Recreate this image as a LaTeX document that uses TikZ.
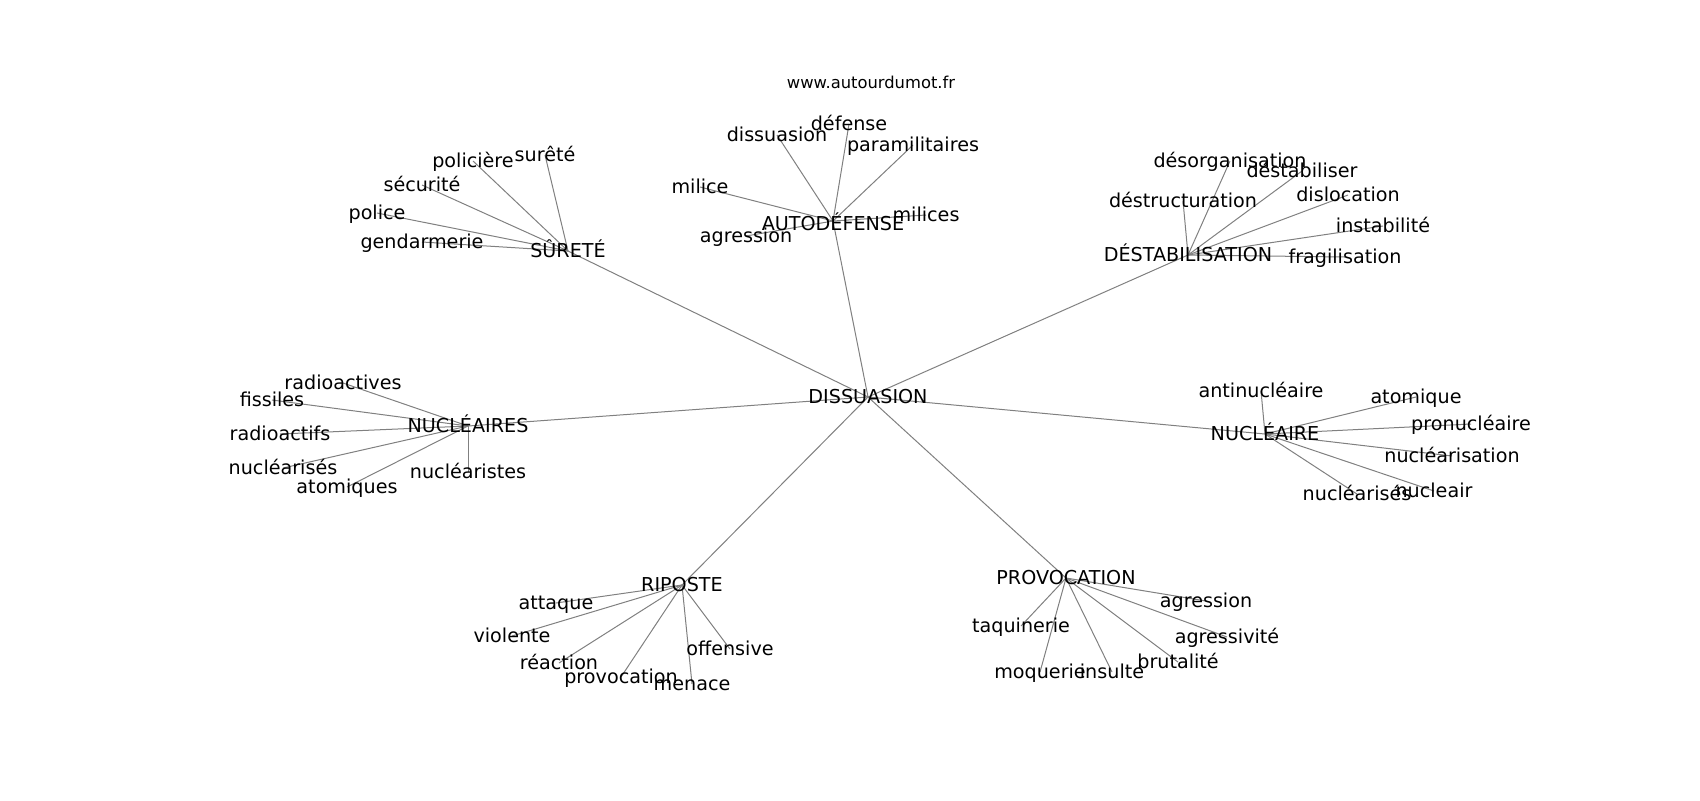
\documentclass[tikz,border=0pt]{standalone}
\usepackage{fontspec}
\setmainfont{DejaVu Sans}
\usetikzlibrary{backgrounds}
\tikzset{word/.style={inner sep=0pt,text height=9pt,text depth=1.6pt,
    font=\fontsize{10.9}{13}\selectfont},
  link/.style={draw=gray,line width=.57pt}}

\begin{document}
\begin{tikzpicture}[x=.2mm,y=-.2mm]
\useasboundingbox (0,0) rectangle (1700,800);
\node[font=\fontsize{9.3}{11}\selectfont] (site) at (871,82) {www.autourdumot.fr};
\node[word] (dis) at (868,397) {DISSUASION};
% second ring
\foreach \h/\x/\y/\t in {sur/568/251/SÛRETÉ,
    dest/1188/255/DÉSTABILISATION,nucs/468/426/NUCLÉAIRES,
    nuc/1265/434/NUCLÉAIRE,rip/682/585/RIPOSTE,prov/1066/578/PROVOCATION}
  \node[word] (\h) at (\x,\y) {\t};
\node[word,text height=12.4pt] (auto) at (833,221) {AUTODÉFENSE};
% leaves
\foreach \h/\i/\x/\y/\t in {sur/1/545/155/surêté,sur/2/473/161/policière,
    sur/3/422/185/sécurité,sur/4/377/213/police,sur/5/422/242/gendarmerie,
    auto/1/777/135/dissuasion,auto/2/849/124/défense,
    auto/3/913/145/paramilitaires,auto/4/700/187/milice,
    auto/5/926/215/milices,auto/6/746/236/agression,
    dest/1/1230/161/désorganisation,dest/2/1302/171/déstabiliser,
    dest/3/1183/201/déstructuration,dest/4/1348/195/dislocation,
    dest/5/1383/226/instabilité,dest/6/1345/257/fragilisation,
    nucs/1/343/383/radioactives,nucs/2/272/400/fissiles,
    nucs/3/280/434/radioactifs,nucs/4/283/468/nucléarisés,
    nucs/5/347/487/atomiques,nucs/6/468/472/nucléaristes,
    nuc/1/1261/391/antinucléaire,nuc/2/1416/397/atomique,
    nuc/3/1471/424/pronucléaire,nuc/4/1452/456/nucléarisation,
    nuc/5/1357/494/nucléarisés,nuc/6/1434/491/nucleair,
    rip/1/556/603/attaque,rip/2/512/636/violente,rip/3/559/663/réaction,
    rip/4/621/677/provocation,rip/5/692/684/menace,rip/6/730/649/offensive,
    prov/1/1206/601/agression,prov/2/1021/626/taquinerie,
    prov/3/1227/637/agressivité,prov/4/1178/662/brutalité,
    prov/5/1040/672/moquerie,prov/6/1112/672/insulte}
  \node[word] (\h\i) at (\x,\y) {\t};
\begin{scope}[on background layer]
\foreach \h in {sur,auto,dest,nucs,nuc,rip,prov}
  \draw[link] (dis.center) -- (\h.center);
\foreach \h/\k in {sur/5,auto/6,dest/6,nucs/6,nuc/6,rip/6,prov/6}
  \foreach \i in {1,...,\k}
    \draw[link] (\h.center) -- (\h\i.center);
\end{scope}
\end{tikzpicture}
\end{document}
